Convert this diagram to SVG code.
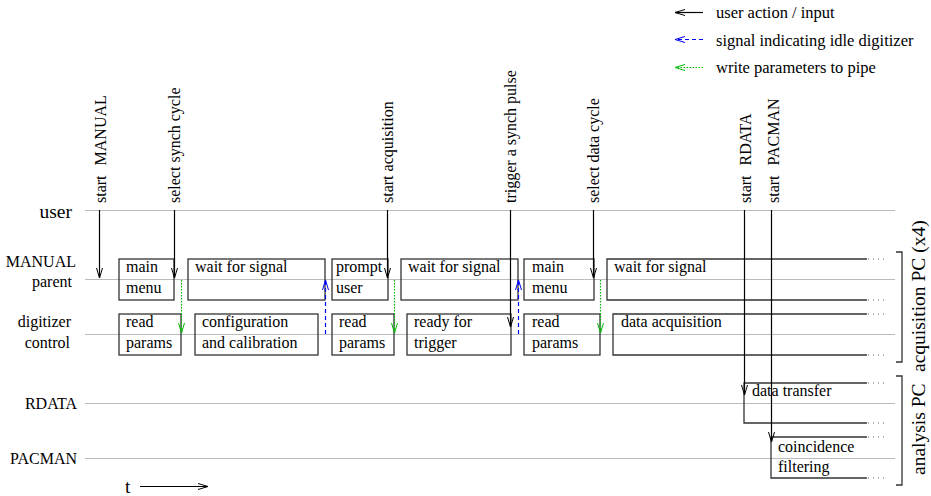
<svg xmlns="http://www.w3.org/2000/svg" width="931" height="496" viewBox="0 0 931 496">
<style>
text{fill:#000;font-family:Liberation Serif,Tinos,DejaVu Serif,Times New Roman,Times,serif}
.bt{font-size:16px}
.lb{font-size:16px}
.vt{font-size:16px}
.lg{font-size:16.5px}
.big{font-size:19.5px}
.tl{stroke:#bbb;stroke-width:1.2;fill:none}
.bx{stroke:#333;stroke-width:1.3;fill:none}
.dots{stroke:#666;stroke-width:1;stroke-dasharray:1,4;fill:none}
.ua{stroke:#000;stroke-width:1.2;fill:none;marker-end:url(#ab)}
.sig{stroke:#00f;stroke-width:1.2;fill:none;stroke-dasharray:4,3;marker-end:url(#abl)}
.wp{stroke:#0b0;stroke-width:1.2;fill:none;stroke-dasharray:1.5,1.5;marker-end:url(#agr)}
</style>
<defs>
<marker id="ab" markerWidth="11" markerHeight="8" refX="10" refY="4" orient="auto" markerUnits="userSpaceOnUse"><path d="M0,1 L10,4 L0,7" fill="none" stroke="#000" stroke-width="1"/></marker>
<marker id="abl" markerWidth="11" markerHeight="8" refX="10" refY="4" orient="auto" markerUnits="userSpaceOnUse"><path d="M0,1 L10,4 L0,7" fill="none" stroke="#00f" stroke-width="1"/></marker>
<marker id="agr" markerWidth="11" markerHeight="8" refX="10" refY="4" orient="auto" markerUnits="userSpaceOnUse"><path d="M0,1 L10,4 L0,7" fill="none" stroke="#0b0" stroke-width="1"/></marker>
</defs>
<rect width="931" height="496" fill="#fff"/>

<g id="timelines">
<path class="tl" d="M85,210.5 H895"/>
<path class="tl" d="M85,279.5 H895"/>
<path class="tl" d="M85,334.5 H895"/>
<path class="tl" d="M85,403.5 H895"/>
<path class="tl" d="M85,458.5 H895"/>
</g>

<g id="row-labels">
<text class="big" x="72" y="218" text-anchor="end">user</text>
<text class="lb" x="76" y="267" text-anchor="end">MANUAL</text>
<text class="lb" x="72" y="287" text-anchor="end">parent</text>
<text class="lb" x="71" y="327" text-anchor="end">digitizer</text>
<text class="lb" x="70" y="348" text-anchor="end">control</text>
<text class="lb" x="77" y="409" text-anchor="end">RDATA</text>
<text class="lb" x="77" y="464" text-anchor="end">PACMAN</text>
</g>

<g id="legend">
<path class="ua" d="M703,12.5 H675"/>
<path class="sig" d="M703,39.5 H675"/>
<path class="wp" d="M703,67.5 H675"/>
<text class="lg" x="716" y="18">user action / input</text>
<text class="lg" x="716" y="46">signal indicating idle digitizer</text>
<text class="lg" x="716" y="73">write parameters to pipe</text>
</g>

<g id="action-labels">
<text class="vt" transform="translate(106,203) rotate(-90)">start<tspan dx="10">MANUAL</tspan></text>
<text class="vt" transform="translate(180,203) rotate(-90)">select synch cycle</text>
<text class="vt" transform="translate(393,203) rotate(-90)">start acquisition</text>
<text class="vt" transform="translate(516,203) rotate(-90)">trigger a synch pulse</text>
<text class="vt" transform="translate(599,203) rotate(-90)">select data cycle</text>
<text class="vt" transform="translate(751,203) rotate(-90)">start<tspan dx="10">RDATA</tspan></text>
<text class="vt" transform="translate(779,203) rotate(-90)">start<tspan dx="10">PACMAN</tspan></text>
</g>

<g id="main-menu-1"><rect class="bx" x="119" y="259" width="55" height="41"/><text class="bt" x="126" y="272">main</text><text class="bt" x="126" y="293">menu</text></g>
<g id="wait-1"><rect class="bx" x="188" y="259" width="137" height="41"/><text class="bt" x="195" y="272">wait for signal</text></g>
<g id="prompt-user"><rect class="bx" x="332" y="259" width="56" height="41"/><text class="bt" x="336" y="272">prompt</text><text class="bt" x="336" y="293">user</text></g>
<g id="wait-2"><rect class="bx" x="401" y="259" width="117" height="41"/><text class="bt" x="408" y="272">wait for signal</text></g>
<g id="main-menu-2"><rect class="bx" x="524" y="259" width="70" height="41"/><text class="bt" x="532" y="272">main</text><text class="bt" x="532" y="293">menu</text></g>
<g id="wait-3"><path class="bx" d="M867,259 H607 V300 H867"/><path class="dots" d="M868,259 H888 M868,300 H888"/><text class="bt" x="614" y="272">wait for signal</text></g>

<g id="read-params-1"><rect class="bx" x="119" y="314" width="62" height="41"/><text class="bt" x="126" y="327">read</text><text class="bt" x="126" y="348">params</text></g>
<g id="config"><rect class="bx" x="195" y="314" width="123" height="41"/><text class="bt" x="202" y="327">configuration</text><text class="bt" x="202" y="348">and calibration</text></g>
<g id="read-params-2"><rect class="bx" x="332" y="314" width="62" height="41"/><text class="bt" x="339" y="327">read</text><text class="bt" x="339" y="348">params</text></g>
<g id="ready-trigger"><rect class="bx" x="407" y="314" width="104" height="41"/><text class="bt" x="414" y="327">ready for</text><text class="bt" x="414" y="348">trigger</text></g>
<g id="read-params-3"><rect class="bx" x="524" y="314" width="76" height="41"/><text class="bt" x="532" y="327">read</text><text class="bt" x="532" y="348">params</text></g>
<g id="data-acq"><path class="bx" d="M867,314 H613 V355 H867"/><path class="dots" d="M868,314 H888 M868,355 H888"/><text class="bt" x="621" y="327">data acquisition</text></g>

<g id="data-transfer"><path class="bx" d="M867,383 H744 V423 H867"/><path class="dots" d="M868,383 H888 M868,423 H888"/><text class="bt" x="752" y="396">data transfer</text></g>
<g id="coincidence"><path class="bx" d="M867,437 H771 V478 H867"/><path class="dots" d="M868,437 H888 M868,478 H888"/><text class="bt" x="778" y="452">coincidence</text><text class="bt" x="778" y="472">filtering</text></g>

<g id="acq-pc"><path class="bx" d="M896,252 H902 V362 H896"/><text class="big" transform="translate(925,372) rotate(-90)">acquisition PC (x4)</text></g>
<g id="analysis-pc"><path class="bx" d="M896,376 H902 V485 H896"/><text class="big" transform="translate(925,475) rotate(-90)">analysis PC</text></g>

<g id="time-axis"><text class="big" x="125" y="493">t</text><path class="ua" d="M140,486.5 H208" stroke-width="1"/></g>

<g id="connectors">
<path class="ua" d="M99.5,210 V278"/>
<path class="ua" d="M174.5,210 V278"/>
<path class="ua" d="M387.5,210 V278"/>
<path class="ua" d="M510.5,210 V327"/>
<path class="ua" d="M593.5,210 V278"/>
<path class="ua" d="M744.5,210 V395"/>
<path class="ua" d="M771.5,210 V442"/>
<path class="wp" d="M181.5,280 V333"/>
<path class="wp" d="M394.5,280 V333"/>
<path class="wp" d="M600.5,280 V333"/>
<path class="sig" d="M325.5,334 V280"/>
<path class="sig" d="M518.5,334 V280"/>
</g>
</svg>
